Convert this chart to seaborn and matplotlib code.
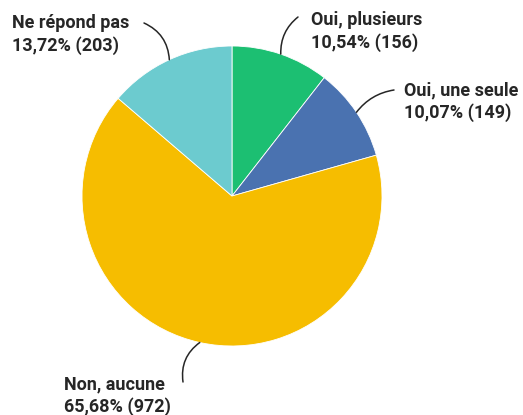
import matplotlib

matplotlib.use("Agg")

import matplotlib.pyplot as plt
import numpy as np
import seaborn as sns

# data
labels = ["Oui, plusieurs", "Oui, une seule", "Non, aucune", "Ne répond pas"]
counts = [156, 149, 972, 203]
colors = ["#1cbf72", "#4a72b0", "#f6bd00", "#6ccbcf"]

# layout (pixel coords, y measured from top)
W, H = 523, 415
center = (232, 196)
radius = 150
text_pos = [(311, 11), (404, 81), (64, 375), (12, 14)]
line_start = [(298, 17), (394, 90), (183, 382), (144, 23)]
line_rad = [0.25, 0.2, -0.3, -0.3]

sns.set_style("white")
plt.rcParams["font.family"] = ["Roboto", "DejaVu Sans"]

fig = plt.figure(figsize=(W / 100, H / 100), dpi=100)
ax = fig.add_axes([0, 0, 1, 1])


def up(p):
    return (p[0], H - p[1])


wedges, _ = ax.pie(
    counts,
    colors=colors,
    startangle=90,
    counterclock=False,
    center=up(center),
    radius=radius,
    wedgeprops=dict(edgecolor="white", linewidth=0.6),
    frame=True,
)
ax.set_xlim(0, W)
ax.set_ylim(0, H)
ax.set_aspect("equal")
ax.axis("off")

total = sum(counts)
for i, w in enumerate(wedges):
    pct = counts[i] / total * 100
    txt = f"{labels[i]}\n{pct:.2f}".replace(".", ",") + f"% ({counts[i]})"
    ax.text(*up(text_pos[i]), txt, ha="left", va="top", fontsize=13,
            fontweight="bold", color="#262626", linespacing=1.3)
    mid = np.deg2rad((w.theta1 + w.theta2) / 2)
    edge = (w.center[0] + w.r * np.cos(mid), w.center[1] + w.r * np.sin(mid))
    ax.annotate("", xy=edge, xytext=up(line_start[i]),
                arrowprops=dict(arrowstyle="-", color="#262626", lw=1.1,
                                connectionstyle=f"arc3,rad={line_rad[i]}",
                                shrinkA=0, shrinkB=0))

fig.savefig("out.png", dpi=100)
